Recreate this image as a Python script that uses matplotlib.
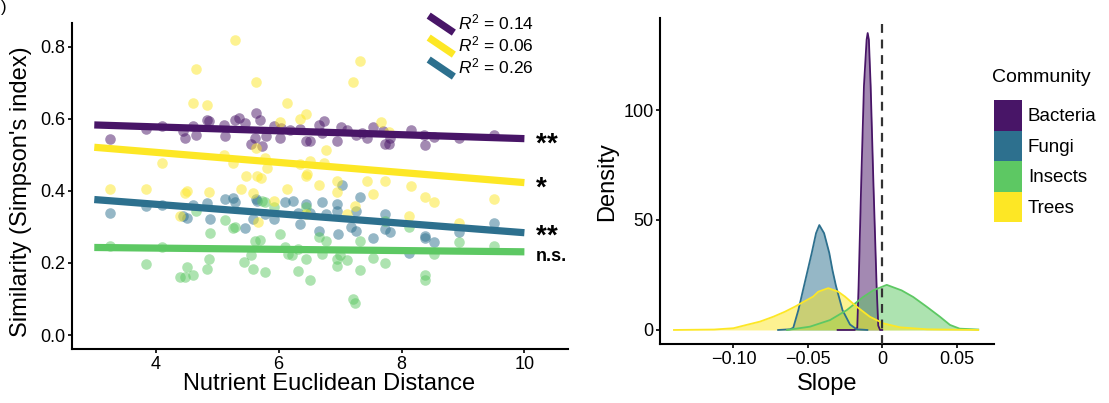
import matplotlib
matplotlib.use("Agg")
import matplotlib.pyplot as plt
from matplotlib.lines import Line2D
from matplotlib.patches import Patch
from matplotlib.legend_handler import HandlerLine2D

plt.rcParams["font.family"] = ["Liberation Sans", "DejaVu Sans"]
plt.rcParams["mathtext.fontset"] = "custom"
plt.rcParams["mathtext.rm"] = "Liberation Sans"
plt.rcParams["mathtext.it"] = "Liberation Sans:italic"
plt.rcParams["mathtext.bf"] = "Liberation Sans:bold"

# ---- colours ----
communities = ["Bacteria", "Fungi", "Insects", "Trees"]
colors = {"Bacteria": "#481567", "Fungi": "#2D708E", "Insects": "#5DC863", "Trees": "#FDE725"}

# ---- left panel: similarity vs nutrient distance ----
trees_x = [5.29, 4.66, 5.64, 7.33, 7.21, 4.60, 4.83, 6.14, 6.44, 6.34, 6.03, 7.67, 4.10, 5.11,
           5.26, 5.64, 5.81, 5.78, 6.34, 6.51, 6.74, 6.77, 5.47, 5.65, 5.72, 6.46, 6.45, 6.66,
           6.95, 7.44, 7.73, 3.26, 3.84, 4.48, 4.51, 4.86, 5.38, 5.59, 5.93, 6.13, 6.95, 7.54,
           8.16, 8.39, 8.53, 9.51, 7.12, 8.12, 4.39, 5.67, 6.45, 8.93, 7.80, 7.24]
trees_y = [0.820, 0.737, 0.703, 0.761, 0.703, 0.644, 0.637, 0.645, 0.613, 0.599, 0.591, 0.591,
           0.478, 0.499, 0.478, 0.520, 0.464, 0.492, 0.474, 0.483, 0.478, 0.513, 0.441, 0.441,
           0.437, 0.446, 0.441, 0.416, 0.428, 0.428, 0.428, 0.406, 0.405, 0.395, 0.400, 0.398,
           0.405, 0.393, 0.372, 0.405, 0.398, 0.391, 0.413, 0.383, 0.370, 0.377, 0.336, 0.331,
           0.331, 0.313, 0.336, 0.310, 0.563, 0.359]

bacteria_x = [3.26, 3.84, 4.10, 4.45, 4.48, 4.60, 4.66, 4.84, 4.86, 5.11, 5.29, 5.36, 5.45,
              5.55, 5.61, 5.64, 5.70, 5.73, 5.80, 5.93, 6.03, 6.19, 6.34, 6.45, 6.51, 6.66,
              6.74, 6.71, 6.95, 7.02, 7.12, 7.26, 7.35, 7.44, 7.54, 7.70, 7.73, 7.80, 7.82,
              8.16, 8.37, 8.39, 8.53, 8.93, 9.51, 6.04, 5.12]
bacteria_y = [0.543, 0.572, 0.579, 0.566, 0.547, 0.579, 0.556, 0.598, 0.595, 0.582, 0.598,
              0.602, 0.589, 0.529, 0.547, 0.616, 0.598, 0.524, 0.552, 0.579, 0.547, 0.570,
              0.573, 0.538, 0.538, 0.584, 0.593, 0.561, 0.538, 0.577, 0.570, 0.556, 0.561,
              0.547, 0.577, 0.566, 0.529, 0.529, 0.547, 0.570, 0.556, 0.526, 0.549, 0.547,
              0.554, 0.575, 0.552]

fungi_x = [3.26, 3.84, 4.10, 4.45, 4.51, 4.60, 4.84, 4.88, 5.12, 5.26, 5.29, 5.45, 5.59,
           5.64, 5.65, 5.78, 5.93, 6.10, 6.23, 6.32, 6.34, 6.45, 6.51, 6.66, 6.70, 6.77,
           6.95, 6.95, 6.97, 7.03, 7.18, 7.26, 7.33, 7.54, 7.73, 7.73, 7.82, 8.12, 8.39,
           8.39, 8.53, 8.93, 9.51, 7.26]
fungi_y = [0.338, 0.359, 0.361, 0.329, 0.326, 0.361, 0.366, 0.322, 0.377, 0.380, 0.368,
           0.297, 0.322, 0.377, 0.372, 0.336, 0.322, 0.368, 0.372, 0.340, 0.308, 0.363,
           0.340, 0.289, 0.368, 0.336, 0.363, 0.343, 0.280, 0.416, 0.299, 0.290, 0.382,
           0.269, 0.336, 0.294, 0.287, 0.227, 0.276, 0.269, 0.257, 0.285, 0.310, 0.345]

insects_x = [3.26, 3.84, 4.10, 4.39, 4.48, 4.51, 4.60, 4.66, 4.86, 4.84, 4.89, 5.12, 5.26,
             5.29, 5.44, 5.55, 5.59, 5.61, 5.69, 5.73, 5.78, 5.78, 5.92, 6.02, 6.15, 6.22,
             6.32, 6.45, 6.45, 6.51, 6.66, 6.71, 6.77, 6.95, 6.95, 7.00, 7.12, 7.21, 7.24,
             7.32, 7.33, 7.54, 7.73, 7.73, 8.13, 8.39, 8.39, 8.53, 8.93, 9.51, 6.10, 6.32]
insects_y = [0.248, 0.198, 0.244, 0.161, 0.161, 0.189, 0.168, 0.343, 0.211, 0.184, 0.283,
             0.319, 0.296, 0.299, 0.202, 0.221, 0.184, 0.262, 0.264, 0.372, 0.368, 0.175,
             0.354, 0.280, 0.225, 0.221, 0.179, 0.211, 0.354, 0.154, 0.271, 0.225, 0.260,
             0.211, 0.193, 0.221, 0.207, 0.101, 0.089, 0.181, 0.262, 0.213, 0.200, 0.317,
             0.299, 0.166, 0.154, 0.225, 0.257, 0.246, 0.244, 0.239]

# fitted lines, end points
fit_x = [3.0, 10.0]
fit_bacteria = [0.583, 0.545]
fit_trees = [0.521, 0.423]
fit_fungi = [0.376, 0.284]
fit_insects = [0.243, 0.231]

r2_labels = ["0.14", "0.06", "0.26"]
sig_labels = ["**", "*", "**", "n.s."]

# ---- right panel: slope density curves ----
bact_sx = [-0.030, -0.0185, -0.0168, -0.0159, -0.0141, -0.0123, -0.0105, -0.0098, -0.0090,
           -0.0078, -0.0060, -0.0038, -0.0027, -0.0015, 0.0]
bact_d = [0, 0, 1, 20, 68, 111, 132, 135, 132, 111, 68, 20, 2, 0, 0]

fungi_sx = [-0.070, -0.062, -0.0598, -0.0564, -0.0526, -0.0474, -0.0445, -0.0423, -0.0391,
            -0.0356, -0.0334, -0.0311, -0.0267, -0.0217, -0.0172, -0.010]
fungi_d = [0, 0.3, 1, 9, 20, 35, 44, 47.7, 44, 35, 27, 20, 9, 2.5, 0.3, 0]

insects_sx = [-0.064, -0.0486, -0.0351, -0.0239, -0.0128, -0.0061, 0.003, 0.013, 0.0208,
              0.0298, 0.0388, 0.0455, 0.052, 0.0645]
insects_d = [0, 1.5, 4.5, 9, 15, 18, 20.5, 18, 15, 10.6, 6, 2.3, 0.6, 0.2]

trees_sx = [-0.140, -0.113, -0.100, -0.0912, -0.0822, -0.0733, -0.0654, -0.0587, -0.0464,
            -0.043, -0.0363, -0.0296, -0.0251, -0.0172, -0.0083, 0.0007, 0.0119, 0.030, 0.0645]
trees_d = [0, 0.2, 0.8, 2.3, 3.8, 6, 8.3, 10.6, 15.2, 17.4, 19, 17.4, 15.2, 10.6, 6, 3, 1.2,
           0.3, 0]


class SlantedLine(HandlerLine2D):
    # legend key drawn as a short falling line, like ggplot's abline key
    def create_artists(self, legend, orig_handle, xdescent, ydescent, width, height,
                       fontsize, trans):
        line = Line2D([-xdescent, -xdescent + width],
                      [-ydescent + height * 1.15, -ydescent - height * 0.25])
        self.update_prop(line, orig_handle, legend)
        line.set_transform(trans)
        return [line]


def style_axis(ax):
    for side in ["top", "right"]:
        ax.spines[side].set_visible(False)
    for side in ["left", "bottom"]:
        ax.spines[side].set_linewidth(1.5)
    ax.tick_params(direction="out", length=3, width=1.2, pad=1.5, labelsize=13,
                   colors="black")


def generate_graph():
    fig = plt.figure(figsize=(11.09, 4.03), dpi=100)

    # left panel
    ax1 = fig.add_axes([0.0649, 0.1328, 0.4473, 0.8094])
    pts = [("Bacteria", bacteria_x, bacteria_y), ("Fungi", fungi_x, fungi_y),
           ("Insects", insects_x, insects_y), ("Trees", trees_x, trees_y)]
    for name, xs, ys in pts:
        ax1.scatter(xs, ys, s=58, color=colors[name], alpha=0.5, linewidths=0, zorder=2)

    fits = [("Bacteria", fit_bacteria), ("Trees", fit_trees), ("Fungi", fit_fungi),
            ("Insects", fit_insects)]
    label_shift = [-0.015, -0.015, -0.007, -0.012]  # nudge so labels don't collide
    for (name, ys), sig, dy in zip(fits, sig_labels, label_shift):
        ax1.plot(fit_x, ys, color=colors[name], lw=5.2, solid_capstyle="butt", zorder=3)
        if sig == "n.s.":
            ax1.text(10.18, ys[-1] + dy, sig, fontsize=13, fontweight="bold",
                     va="center", ha="left", clip_on=False)
        else:
            # mathtext keeps the box tight around the asterisks
            stars = r"\!".join(sig)
            ax1.text(10.18, ys[-1] + dy, r"$\mathbf{" + stars + "}$", fontsize=20,
                     va="center", ha="left", clip_on=False)

    ax1.set_xlim(2.637, 10.71)
    ax1.set_ylim(-0.040, 0.865)
    ax1.set_xticks([4, 6, 8, 10])
    ax1.set_yticks([0.0, 0.2, 0.4, 0.6, 0.8])
    ax1.set_yticklabels(["0.0", "0.2", "0.4", "0.6", "0.8"])
    ax1.set_xlabel("Nutrient Euclidean Distance", fontsize=17)
    ax1.set_ylabel("Similarity (Simpson's index)", fontsize=17)
    style_axis(ax1)
    ax1.xaxis.set_label_coords(0.518, -0.072)
    ax1.yaxis.set_label_coords(-0.081, 0.485)

    handles = [Line2D([], [], color=colors[n], lw=5.2, solid_capstyle="butt")
               for n in ["Bacteria", "Trees", "Fungi"]]
    labels = ["$R^2$ = " + v for v in r2_labels]
    ax1.legend(handles, labels, loc="upper left", bbox_to_anchor=(420 / 1109, 1 - 4 / 403),
               bbox_transform=fig.transFigure, frameon=False, fontsize=12.5,
               handlelength=1.45, handletextpad=0.25, labelspacing=0.12, borderpad=0,
               handler_map={Line2D: SlantedLine()})

    # right panel
    ax2 = fig.add_axes([0.5951, 0.1452, 0.3012, 0.8094])
    dens = [("Bacteria", bact_sx, bact_d), ("Fungi", fungi_sx, fungi_d),
            ("Insects", insects_sx, insects_d), ("Trees", trees_sx, trees_d)]
    for name, xs, ds in dens:
        ax2.fill_between(xs, ds, color=colors[name], alpha=0.5, linewidth=0)
        ax2.plot(xs, ds, color=colors[name], lw=1.3)
    ax2.axvline(0, color="#333333", lw=1.6, ls=(0, (4, 3)), zorder=5)

    ax2.set_xlim(-0.1494, 0.0751)
    ax2.set_ylim(-6.6, 141.7)
    ax2.set_xticks([-0.10, -0.05, 0, 0.05])
    ax2.set_xticklabels(["\u22120.10", "\u22120.05", "0", "0.05"])
    ax2.set_yticks([0, 50, 100])
    ax2.set_xlabel("Slope", fontsize=17, labelpad=4)
    ax2.set_ylabel("Density", fontsize=17, labelpad=4)
    style_axis(ax2)

    # community legend: title placed on its own, keys stacked without gaps
    fig.text(992 / 1109, 1 - 77 / 403, "Community", fontsize=14, ha="left", va="center")
    patches = [Patch(facecolor=colors[n], edgecolor="none") for n in communities]
    ax2.legend(patches, communities, loc="upper left",
               bbox_to_anchor=(994 / 1109, 1 - 100 / 403),
               bbox_transform=fig.transFigure, frameon=False, fontsize=13.5,
               handlelength=1.5, handleheight=2.13, labelspacing=0,
               handletextpad=0.3, borderpad=0, borderaxespad=0)

    fig.text(0.001, 0.999, ")", fontsize=12, ha="left", va="top")

    fig.savefig("out.png", dpi=100)
    plt.close(fig)


if __name__ == "__main__":
    generate_graph()
